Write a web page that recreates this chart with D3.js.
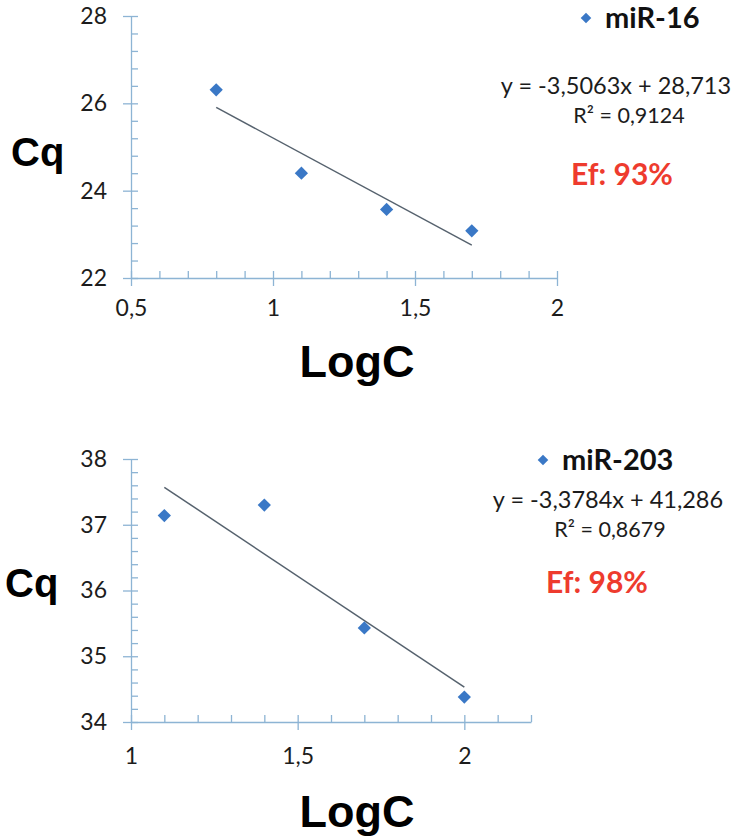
<!DOCTYPE html>
<html>
<head>
<meta charset="utf-8">
<script src="https://cdn.jsdelivr.net/npm/d3@7"></script>
<style>
  body { margin: 0; background: #fff; }
  .tick text { font-family: Lato, "Open Sans", sans-serif; fill: #1c1c1c; }
</style>
</head>
<body>
<div id="chart"></div>
<script>
// miR-16 standard curve
var logC16 = [0.8, 1.1, 1.4, 1.7];
var cq16 = [26.31, 24.40, 23.57, 23.08];
var fit16 = [-3.5063, 28.713];       // slope, intercept
var xTicks16 = [0.5, 1, 1.5, 2];
var yTicks16 = [22, 24, 26, 28];

// miR-203 standard curve
var logC203 = [1.1, 1.4, 1.7, 2.0];
var cq203 = [37.14, 37.30, 35.43, 34.38];
var fit203 = [-3.3784, 41.286];
var xTicks203 = [1, 1.5, 2];
var yTicks203 = [34, 35, 36, 37, 38];

var AXIS = "#8db4d4";
var BLUE = "#3a78c6";

var svg = d3.select("#chart").append("svg")
    .attr("width", 739)
    .attr("height", 836);

var comma = function (d) { return String(d).replace(".", ","); };

function drawChart(c) {
    var x = d3.scaleLinear().domain(c.xDomain).range([131, c.xRight]);
    var y = d3.scaleLinear().domain(c.yDomain).range([c.yBottom, c.yTop]);
    var g = svg.append("g");

    // minor ticks (inside)
    g.append("g")
        .attr("transform", "translate(0," + c.yBottom + ")")
        .call(d3.axisBottom(x).tickValues(c.xMinor).tickSize(-7).tickFormat(""))
        .call(function (s) { s.select(".domain").remove(); });
    g.append("g")
        .attr("transform", "translate(131,0)")
        .call(d3.axisLeft(y).tickValues(c.yMinor).tickSize(-7).tickFormat(""))
        .call(function (s) { s.select(".domain").remove(); });

    // major ticks + labels
    var xa = g.append("g")
        .attr("transform", "translate(0," + c.yBottom + ")")
        .call(d3.axisBottom(x).tickValues(c.xTicks).tickSizeInner(8).tickSizeOuter(0)
            .tickPadding(c.xPad).tickFormat(comma));
    var ya = g.append("g")
        .attr("transform", "translate(131,0)")
        .call(d3.axisLeft(y).tickValues(c.yTicks).tickSizeInner(8).tickSizeOuter(0)
            .tickPadding(16).tickFormat(comma));
    [xa, ya].forEach(function (a) {
        a.selectAll("text").style("font-size", "23px");
    });
    g.selectAll(".domain, .tick line").attr("stroke", AXIS).attr("stroke-width", 1.3);

    // trendline from the fitted equation
    var x0 = d3.min(c.xs), x1 = d3.max(c.xs);
    g.append("line")
        .attr("x1", x(x0)).attr("y1", y(c.fit[0] * x0 + c.fit[1]))
        .attr("x2", x(x1)).attr("y2", y(c.fit[0] * x1 + c.fit[1]))
        .attr("stroke", "#56626e")
        .attr("stroke-width", 1.5);

    // points
    g.selectAll(".pt")
        .data(c.xs.map(function (v, i) { return [v, c.ys[i]]; }))
        .enter().append("path")
        .attr("class", "pt")
        .attr("d", d3.symbol().type(d3.symbolSquare).size(88))
        .attr("transform", function (d) {
            return "translate(" + x(d[0]) + "," + y(d[1]) + ") rotate(45)";
        })
        .attr("fill", BLUE);

    // axis titles
    g.append("text")
        .attr("x", c.cqX).attr("y", c.cqY)
        .style("font", "bold 40px 'Liberation Sans', Arial, sans-serif")
        .text("Cq");
    g.append("text")
        .attr("x", 357).attr("y", c.logCY)
        .attr("text-anchor", "middle")
        .style("font", "bold 45px 'Liberation Sans', Arial, sans-serif")
        .text("LogC");

    // legend
    g.append("path")
        .attr("d", d3.symbol().type(d3.symbolSquare).size(56))
        .attr("transform", "translate(" + c.legX + "," + c.legY + ") rotate(45)")
        .attr("fill", BLUE);
    g.append("text")
        .attr("x", c.legX + 19).attr("y", c.legY + 10)
        .style("font", "bold 29px Lato, sans-serif")
        .attr("fill", "#111")
        .text(c.name);

    // equation, R², efficiency
    g.append("text")
        .attr("x", c.eqX).attr("y", c.eqY)
        .attr("text-anchor", "middle")
        .style("font", "23.5px Lato, sans-serif")
        .attr("fill", "#1c1c1c")
        .text("y = " + comma(c.fit[0]) + "x + " + comma(c.fit[1]));
    g.append("text")
        .attr("x", c.r2X).attr("y", c.eqY + 29)
        .attr("text-anchor", "middle")
        .style("font", "21.5px Lato, sans-serif")
        .attr("fill", "#1c1c1c")
        .text("R² = " + c.r2);
    g.append("text")
        .attr("x", c.efX).attr("y", c.efY)
        .attr("text-anchor", "middle")
        .style("font", "bold 30px Lato, sans-serif")
        .attr("fill", "#ee3b2e")
        .text("Ef: " + c.ef);
}

drawChart({
    xs: logC16, ys: cq16, fit: fit16, name: "miR-16", r2: "0,9124", ef: "93%",
    xDomain: [0.5, 2], xRight: 557, yDomain: [22, 28], yBottom: 278, yTop: 16,
    xTicks: xTicks16, yTicks: yTicks16,
    xMinor: d3.range(5, 21).map(function (i) { return i / 10; }),
    yMinor: d3.range(0, 16).map(function (i) { return 22 + i * 0.4; }),
    xPad: 14, cqX: 11, cqY: 166, logCY: 377,
    legX: 586, legY: 18, eqX: 616, eqY: 94, r2X: 629, efX: 622, efY: 185
});

drawChart({
    xs: logC203, ys: cq203, fit: fit203, name: "miR-203", r2: "0,8679", ef: "98%",
    xDomain: [1, 2.2], xRight: 531, yDomain: [34, 38], yBottom: 722, yTop: 459,
    xTicks: xTicks203, yTicks: yTicks203,
    xMinor: d3.range(10, 23).map(function (i) { return i / 10; }),
    yMinor: d3.range(0, 21).map(function (i) { return 34 + i * 0.2; }),
    xPad: 18, cqX: 5, cqY: 597, logCY: 827,
    legX: 543, legY: 460, eqX: 608, eqY: 508, r2X: 610, efX: 597, efY: 593
});
</script>
</body>
</html>
